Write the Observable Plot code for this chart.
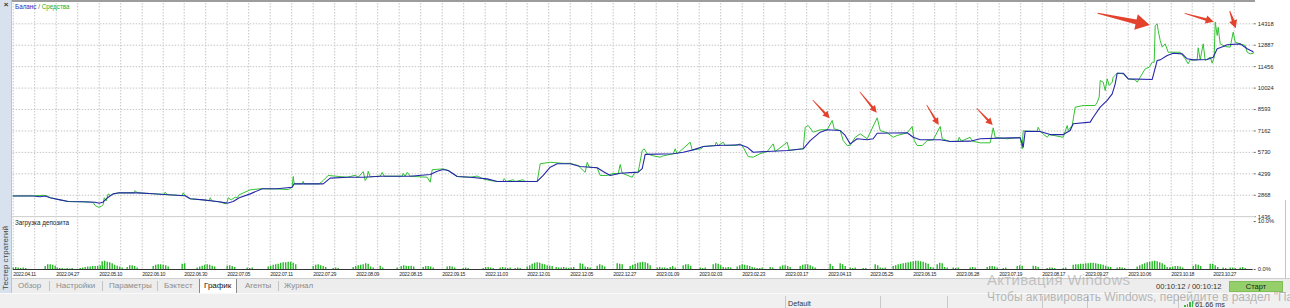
<!DOCTYPE html>
<html><head><meta charset="utf-8">
<script src="https://cdn.jsdelivr.net/npm/d3@7"></script>
<script src="https://cdn.jsdelivr.net/npm/@observablehq/plot@0.6"></script>
<style>
html,body{margin:0;padding:0;background:#fff;}
#root{position:relative;width:1290px;height:308px;overflow:hidden;background:#fff;font-family:"Liberation Sans",Arial,sans-serif;}
.abs{position:absolute;white-space:nowrap;line-height:1;}
.tab{position:absolute;top:282px;font-size:8px;color:#8c8c8c;line-height:1;white-space:nowrap;}
.sep{position:absolute;top:281px;width:1px;height:10px;background:#c4c4c4;}
.ssep{position:absolute;top:296px;width:1px;height:12px;background:#c8c8c8;}
</style></head>
<body><div id="root">
  <div id="price" class="abs" style="left:0;top:0;width:1290px;height:219px;"></div>
  <div id="load" class="abs" style="left:0;top:216px;width:1290px;height:62px;"></div>

  <div class="abs" style="left:12px;top:0;width:1243px;height:2px;background:#9c9c9c;"></div>
  <div class="abs" style="left:12px;top:216px;width:1243px;height:1px;background:#d2d2d2;"></div>
  <div class="abs" style="left:1285px;top:200px;width:1px;height:81px;background:#c4c4c4;"></div>

  <div class="abs" style="left:0;top:0;width:12px;height:293px;background:#d7e2ee;border-right:1px solid #b8c5d3;box-sizing:border-box;"></div>
  <div class="abs" style="left:2px;top:1px;width:8px;height:8px;font-size:8px;color:#333;text-align:center;font-weight:bold;">×</div>
  <div class="abs" style="left:1px;top:228px;width:10px;height:62px;font-size:8px;line-height:10px;color:#444;writing-mode:vertical-rl;transform:rotate(180deg);">Тестер стратегий</div>

  <div class="abs" style="left:15px;top:3.6px;font-size:6.3px;"><span style="color:#2a2ab8">Баланс</span><span style="color:#666"> / </span><span style="color:#22b022">Средства</span></div>
  <div class="abs" style="left:15px;top:219.8px;font-size:6.3px;color:#222;">Загрузка депозита</div>

  <div class="abs" style="left:12px;top:278px;width:1278px;height:15px;background:#ededed;border-top:1px solid #cdcdcd;box-sizing:border-box;"></div>
  <div class="abs" style="left:199px;top:279px;width:38px;height:14px;background:#fff;border-left:1px solid #8a8a8a;border-right:1px solid #8a8a8a;box-sizing:border-box;"></div>
  <div class="tab" style="left:18px;">Обзор</div>
  <div class="sep" style="left:49px;"></div>
  <div class="tab" style="left:56px;">Настройки</div>
  <div class="sep" style="left:102px;"></div>
  <div class="tab" style="left:109px;">Параметры</div>
  <div class="sep" style="left:157px;"></div>
  <div class="tab" style="left:164px;">Бэктест</div>
  <div class="tab" style="left:204px;color:#111;">График</div>
  <div class="tab" style="left:245px;">Агенты</div>
  <div class="sep" style="left:278px;"></div>
  <div class="tab" style="left:284px;">Журнал</div>

  <div class="abs" style="left:1156px;top:283.3px;font-size:7.6px;color:#333;">00:10:12 / 00:10:12</div>
  <div class="abs" style="left:1229px;top:281px;width:54px;height:11px;background:#94cf6a;border:1px solid #82bf58;box-sizing:border-box;font-size:7.5px;line-height:9px;text-align:center;color:#222;">Старт</div>

  <div class="abs" style="left:0;top:293px;width:1290px;height:15px;background:#f0f0f0;border-top:1px solid #fafafa;box-sizing:border-box;"></div>
  <div class="ssep" style="left:785px;"></div>
  <div class="ssep" style="left:880px;"></div>
  <div class="ssep" style="left:947px;"></div>
  <div class="ssep" style="left:1042px;"></div>
  <div class="ssep" style="left:1087px;"></div>
  <div class="ssep" style="left:1178px;"></div>
  <div class="abs" style="left:788px;top:299.5px;font-size:7.2px;color:#333;">Default</div>
  <div class="abs" style="left:1184px;top:305px;width:1.5px;height:2px;background:#3db83d;"></div>
  <div class="abs" style="left:1186.5px;top:303.5px;width:1.5px;height:3.5px;background:#3db83d;"></div>
  <div class="abs" style="left:1189px;top:302px;width:1.5px;height:5px;background:#3db83d;"></div>
  <div class="abs" style="left:1191.5px;top:300.5px;width:1.5px;height:6.5px;background:#3db83d;"></div>
  <div class="abs" style="left:1195px;top:300.5px;font-size:7.3px;color:#333;">61.66 ms</div>

  <div class="abs" style="left:987px;top:272px;font-size:15px;letter-spacing:0.3px;color:rgba(150,150,150,0.5);">Активация Windows</div>
  <div class="abs" style="left:987px;top:290.5px;font-size:12px;color:rgba(140,140,140,0.6);">Чтобы активировать Windows, перейдите в раздел "Параметры".</div>
</div>
<script>
// ---------- data ----------
const dateLabels = ["2022.04.11","2022.04.27","2022.05.10","2022.06.10","2022.06.30","2022.07.05","2022.07.11","2022.07.29","2022.08.09","2022.08.15","2022.09.15","2022.11.03","2022.12.01","2022.12.05","2022.12.27","2023.01.09","2023.02.03","2023.02.23","2023.03.17","2023.04.13","2023.05.25","2023.06.15","2023.06.28","2023.07.19","2023.08.17","2023.09.27","2023.10.06","2023.10.18","2023.10.27"];
const dateDeals = [0,43,86,129,171,214,257,300,343,386,429,472,514,557,600,643,686,729,772,815,857,900,943,986,1029,1072,1115,1158,1200];
const priceTicks = [1436,2868,4299,5730,7162,8593,10024,11456,12887,14318];
const loadTicks = [0,10];

const balance = [[0,2820],[20,2820],[27,2770],[32,2820],[37,2700],[47,2560],[55,2450],[70,2430],[82,2400],[86,2330],[90,2420],[95,2740],[100,2960],[106,3030],[125,3030],[140,2970],[155,2900],[172,2830],[177,2630],[190,2560],[204,2450],[214,2340],[220,2450],[226,2700],[237,2960],[249,3300],[264,3300],[279,3400],[281,3630],[310,3630],[317,4010],[334,4070],[350,4070],[367,4140],[397,4140],[417,4250],[424,4470],[430,4590],[435,4520],[444,4120],[457,4070],[474,3960],[484,3790],[524,3790],[530,4190],[537,4740],[544,4970],[557,4970],[567,4790],[584,4700],[590,4450],[597,4190],[607,4340],[625,4410],[629,4650],[632,5600],[660,5635],[670,5740],[680,5900],[690,6120],[704,6190],[727,6240],[734,6080],[740,5740],[754,5790],[774,5860],[790,5970],[797,6520],[807,7080],[814,7240],[827,7190],[832,6860],[837,6300],[844,6640],[854,6570],[860,6640],[864,7010],[894,7040],[900,6740],[907,6570],[927,6570],[937,6460],[957,6480],[967,6640],[997,6700],[1007,6700],[1009,6300],[1010,6080],[1012,7145],[1027,7125],[1037,6920],[1050,6920],[1057,7190],[1060,7640],[1077,7750],[1080,8080],[1087,8750],[1094,9200],[1099,9640],[1102,10310],[1104,11020],[1110,11020],[1115,10640],[1139,10600],[1144,11870],[1147,11910],[1154,12200],[1160,12350],[1169,12310],[1174,11980],[1180,11910],[1194,11930],[1200,12090],[1204,12650],[1210,12800],[1214,12920],[1227,12980],[1234,12650],[1239,12490],[1240,12420]];

const equity = [[0,2820],[20,2830],[30,2860],[34,2820],[37,2700],[47,2560],[55,2450],[70,2430],[80,2390],[82,2180],[85,2070],[88,2110],[90,2250],[91,2700],[93,2500],[95,2960],[97,2860],[100,2960],[106,3030],[121,3030],[122,3180],[124,3030],[140,2970],[151,2920],[152,3070],[154,2910],[169,2840],[170,3030],[172,2830],[177,2630],[190,2560],[196,2500],[197,2700],[199,2470],[207,2430],[212,2300],[214,2420],[215,2700],[218,2560],[222,2740],[224,2700],[226,2900],[237,3230],[247,3300],[264,3290],[275,3250],[279,3400],[280,4120],[281,3630],[289,3630],[290,3800],[291,3630],[306,3630],[310,3850],[315,4190],[334,4070],[342,4200],[345,4070],[350,4450],[352,3850],[354,4070],[355,4470],[357,4100],[367,4140],[369,4400],[371,4140],[389,4140],[390,4340],[392,4140],[394,4400],[397,4140],[414,4070],[417,3740],[419,4570],[424,4600],[430,4630],[435,4520],[440,4300],[444,4120],[457,4070],[464,4150],[470,3960],[477,3850],[484,3790],[490,3800],[491,3980],[493,3790],[500,3900],[502,3790],[510,3900],[512,3790],[524,3790],[527,4970],[537,5070],[550,5000],[557,5000],[565,4850],[570,4520],[572,4400],[574,5070],[576,4740],[584,4700],[587,4190],[594,4190],[600,4330],[605,4300],[607,4920],[609,4340],[619,4070],[621,4340],[625,4410],[629,5860],[631,5970],[634,5635],[640,5500],[647,5410],[650,5500],[660,5635],[662,5970],[664,5635],[677,6410],[679,5900],[688,5970],[690,6120],[702,6190],[703,6410],[705,6190],[710,6410],[712,6190],[722,6190],[727,6300],[730,6080],[735,5450],[740,5410],[747,5650],[754,5790],[760,6300],[762,5790],[774,6410],[776,5860],[790,5970],[792,7410],[795,7525],[800,7080],[807,7240],[814,7240],[819,7860],[821,7300],[827,7190],[830,6520],[834,6190],[837,6190],[842,6740],[847,6970],[854,6640],[864,8040],[867,7190],[874,7040],[880,6740],[884,6860],[894,7040],[899,7460],[901,6520],[904,6190],[909,6190],[914,6520],[920,6570],[927,7460],[929,6640],[937,6460],[945,6480],[946,6740],[948,6480],[957,6740],[959,6480],[967,6370],[977,6370],[980,7370],[982,6740],[994,6640],[1007,6740],[1009,5970],[1010,7190],[1012,7145],[1024,7140],[1025,7410],[1027,7125],[1034,6740],[1036,6920],[1050,6740],[1054,7525],[1055,7190],[1059,7525],[1062,8750],[1070,8860],[1082,8860],[1084,9080],[1086,9420],[1087,10530],[1090,10420],[1092,9860],[1094,10640],[1096,10200],[1099,10420],[1100,10750],[1104,11020],[1110,10980],[1115,10640],[1122,10580],[1124,10420],[1127,10750],[1132,11310],[1136,11420],[1139,11750],[1141,11750],[1142,14200],[1144,14320],[1145,13870],[1147,13200],[1149,12760],[1152,12980],[1155,12420],[1167,12420],[1172,11980],[1175,11650],[1177,11910],[1184,11910],[1185,12715],[1187,11910],[1190,12980],[1192,11860],[1197,12090],[1199,11690],[1201,12090],[1202,14430],[1204,13540],[1205,14090],[1207,12980],[1212,12800],[1217,12760],[1220,13760],[1222,13090],[1227,12980],[1232,12870],[1234,12420],[1237,12310],[1240,12350]];

// deposit load, % : [first deal, [loads of consecutive deals]]
const loadClusters = [
 [0,[0.3,0.4,0.3,0.2,0.3,0.2]],[32,[0.6,1.0,1.0,0.9,0.7]],[44,[0.3,0.2,0.2,0.1,0.2,0.1,0.2]],
 [67,[0.2,0.3,0.4,0.5,0.5,0.6,0.6,0.7,0.8,0.8]],[89,[1.6,1.7,1.5,1.4,1.2,0.9,0.7,0.5,0.3]],
 [114,[0.4,0.8,0.8,0.6,0.3]],[140,[0.6,0.9,1.0,1.0,0.9,0.8,0.5]],[169,[1.1,1.2]],
 [184,[0.3,0.5,0.7,0.9,1.0,0.9,0.7,0.5]],[214,[0.7,0.8,0.6,0.4]],[234,[0.3,0.2,0.3]],
 [255,[0.5,0.7,0.9,1.0,1.1,1.3,1.4,1.4,1.5,1.5,1.3,1.0]],[300,[0.6,0.9,1.0,0.8,0.6,0.4]],
 [320,[0.2,0.3,0.2]],[340,[0.4,0.6,0.8,0.9,1.0,1.2,1.1,0.5,0.3]],[367,[0.7,0.3]],[384,[0.3]],
 [388,[0.6,0.8,0.7,0.6,0.7,0.5]],[410,[0.4,0.6,0.6,0.5,0.3]],[434,[0.5,0.6,0.5,0.3]],
 [450,[0.2,0.3,0.2]],[470,[0.2,0.4,0.4,0.3,0.2]],[487,[0.3,0.4,0.3,0.2,0.3]],[502,[0.2,0.3,0.2]],
 [514,[0.5,0.8,1.1,1.3,1.4,1.3,1.1,1.0,0.8,0.7,0.6]],[543,[0.4,0.3,0.3,0.4,0.3,0.2,0.3,0.4]],
 [567,[1.2,1.1,0.5,0.4,0.3]],[584,[0.7,1.0,0.8,0.5]],[604,[1.2,1.1,1.0]],
 [617,[0.6,0.9,1.1,1.3,1.4,1.5,1.4,1.2,0.8]],[644,[0.3,0.4,0.3,0.3,0.2]],[657,[0.4,0.6,0.3]],
 [670,[0.8,1.0,1.0,0.7]],[687,[0.3,0.2,0.3]],[700,[1.0,1.2,1.1,0.8,0.4,0.3,0.4,0.3]],
 [724,[0.5,0.8,1.0,0.9,0.8,0.6,0.4,0.3,0.2,0.2,0.3]],[757,[0.4,0.3]],[767,[0.5,0.8,0.8,0.6,0.4]],
 [787,[0.6,0.9,1.0,1.0,0.8,0.5,0.3]],[817,[1.1,0.6]],[827,[1.2,1.0,0.6]],[837,[0.3,0.2,0.3]],
 [850,[0.2,0.2]],[862,[1.0,0.8,0.3,0.2,0.3]],
 [880,[0.6,0.8,1.0,1.1,1.2,1.3,1.4,1.5,1.6,1.7,1.7,1.6,1.5,1.3,1.1,0.4,0.3]],
 [924,[1.0,1.3,1.2,0.4,0.3]],[940,[0.3,0.2,0.3]],[957,[0.3,0.4,0.3]],[974,[0.4,0.6,0.6,0.5,0.3]],
 [990,[0.2,0.3]],[1004,[0.6,0.8,0.7]],[1020,[0.7,0.6,0.4]],[1034,[0.2,0.3,0.3,0.2]],[1050,[0.2,0.3]],
 [1060,[0.9,1.0,1.0,1.1,1.1,1.2,1.2,1.3,1.3,1.2,1.1,1.0,0.9,0.7,0.5,0.4]],[1104,[0.3,0.4,0.3,0.2]],
 [1124,[0.5,0.8,1.0,1.2,1.4,1.5,1.6,1.7,1.6,1.4,1.2,0.9,0.4,0.3]],[1157,[0.3,0.5,0.6,0.6,0.5,0.3]],
 [1180,[0.7,1.0,0.9,0.6]],[1197,[1.1,1.1,0.8,0.4]],[1210,[0.3,0.2]],[1217,[0.3,0.3,0.2]],[1227,[0.3,0.4,0.2]]
];

// red annotation arrows: [tail deal, tail value, tip deal, tip value, size]
const arrows = [
 [800,9195,817,7973,"s"],[847,9749,864,8347,"s"],[914,8861,926,7525,"s"],[964,8641,980,7525,"s"],
 [1085,14986,1137,14204,"l"],[1172,14986,1201,14425,"m"],[1217,15139,1223,13984,"m"]
];

// ---------- rendering ----------
const arrowStyle = {s:{t:0.6,b:2.2,hl:7,hw:3.5}, m:{t:0.8,b:2.8,hl:8,hw:4.2}, l:{t:1,b:5,hl:14,hw:8}};
const gridDeals = [];
dateDeals.forEach((t,i)=>{ gridDeals.push(t); const n = dateDeals[i+1]; gridDeals.push(n!==undefined ? (t+n)/2 : t+(t-dateDeals[i-1])/2); });
const labelOf = new Map(dateDeals.map((d,i)=>[d,dateLabels[i]]));
const loadBars = [];
loadClusters.forEach(([s,vals])=>vals.forEach((v,j)=>loadBars.push({deal:s+j*2.5, load:v})));

const xOpt = {domain:[0,1240], range:[12.7,1252.7], axis:null, label:null};
const baseStyle = {background:"transparent", fontFamily:"Liberation Sans, Arial, sans-serif", fontSize:"5.8px", color:"#2a2a2a", overflow:"hidden"};
const gridStyle = {stroke:"#c6c6c6", strokeOpacity:1, strokeDasharray:"1.5,1.5"};

function arrowMark(index, scales) {
  const sx = scales.x, sy = scales.y;
  const g = d3.create("svg:g");
  arrows.forEach(a=>{
    const x1=sx(a[0]), y1=sy(a[1]), x2=sx(a[2]), y2=sy(a[3]);
    const st = arrowStyle[a[4]];
    const L = Math.hypot(x2-x1,y2-y1), ux=(x2-x1)/L, uy=(y2-y1)/L, nx=-uy, ny=ux;
    const bx = x2-ux*st.hl, by = y2-uy*st.hl;
    const pts = [
      [x1+nx*st.t/2, y1+ny*st.t/2],[bx+nx*st.b/2, by+ny*st.b/2],[bx+nx*st.hw, by+ny*st.hw],[x2,y2],
      [bx-nx*st.hw, by-ny*st.hw],[bx-nx*st.b/2, by-ny*st.b/2],[x1-nx*st.t/2, y1-ny*st.t/2]];
    g.append("polygon").attr("points", pts.map(p=>p.join(",")).join(" ")).attr("fill","#e3432d");
  });
  return g.node();
}

const price = Plot.plot({
  width:1290, height:219, marginLeft:12.7, marginRight:37.3, marginTop:3, marginBottom:2.8,
  x:xOpt, y:{domain:[1436,14318], range:[216.2,23.3], axis:null, label:null},
  style:baseStyle,
  marks:[
    Plot.gridX(gridDeals, gridStyle),
    Plot.gridY(priceTicks, gridStyle),
    Plot.line(equity, {x:d=>d[0], y:d=>d[1], stroke:"#33c233", strokeWidth:1}),
    Plot.line(balance, {x:d=>d[0], y:d=>d[1], stroke:"#2626aa", strokeWidth:1.1}),
    Plot.axisY(priceTicks, {anchor:"right", label:null, tickSize:2, tickPadding:2.5, tickFormat:d=>String(d), fontSize:5.8, stroke:"#666"}),
    arrowMark
  ]
});
document.getElementById("price").appendChild(price);

const load = Plot.plot({
  width:1290, height:62, marginLeft:12.7, marginRight:37.3, marginTop:0, marginBottom:9,
  x:xOpt, y:{domain:[0,10], range:[53,5], axis:null, label:null},
  style:baseStyle,
  marks:[
    Plot.gridX(gridDeals, gridStyle),
    Plot.ruleX(loadBars, {x:"deal", y1:0, y2:"load", stroke:"#27b827", strokeWidth:1.4}),
    Plot.ruleY([0], {stroke:"#333", strokeWidth:1}),
    Plot.axisY(loadTicks, {anchor:"right", label:null, tickSize:2, tickPadding:2.5, tickFormat:d=>d.toFixed(1)+"%", fontSize:5.8, stroke:"#666"}),
    Plot.axisX(dateDeals, {anchor:"bottom", label:null, tickSize:0, tickPadding:3, textAnchor:"start", tickFormat:d=>labelOf.get(d), fontSize:5.2})
  ]
});
d3.select(load).selectAll("text").filter(function(){ return /^\d{4}\.\d\d\.\d\d$/.test(this.textContent); }).style("letter-spacing","-0.3px");
document.getElementById("load").appendChild(load);
</script>
</body></html>
